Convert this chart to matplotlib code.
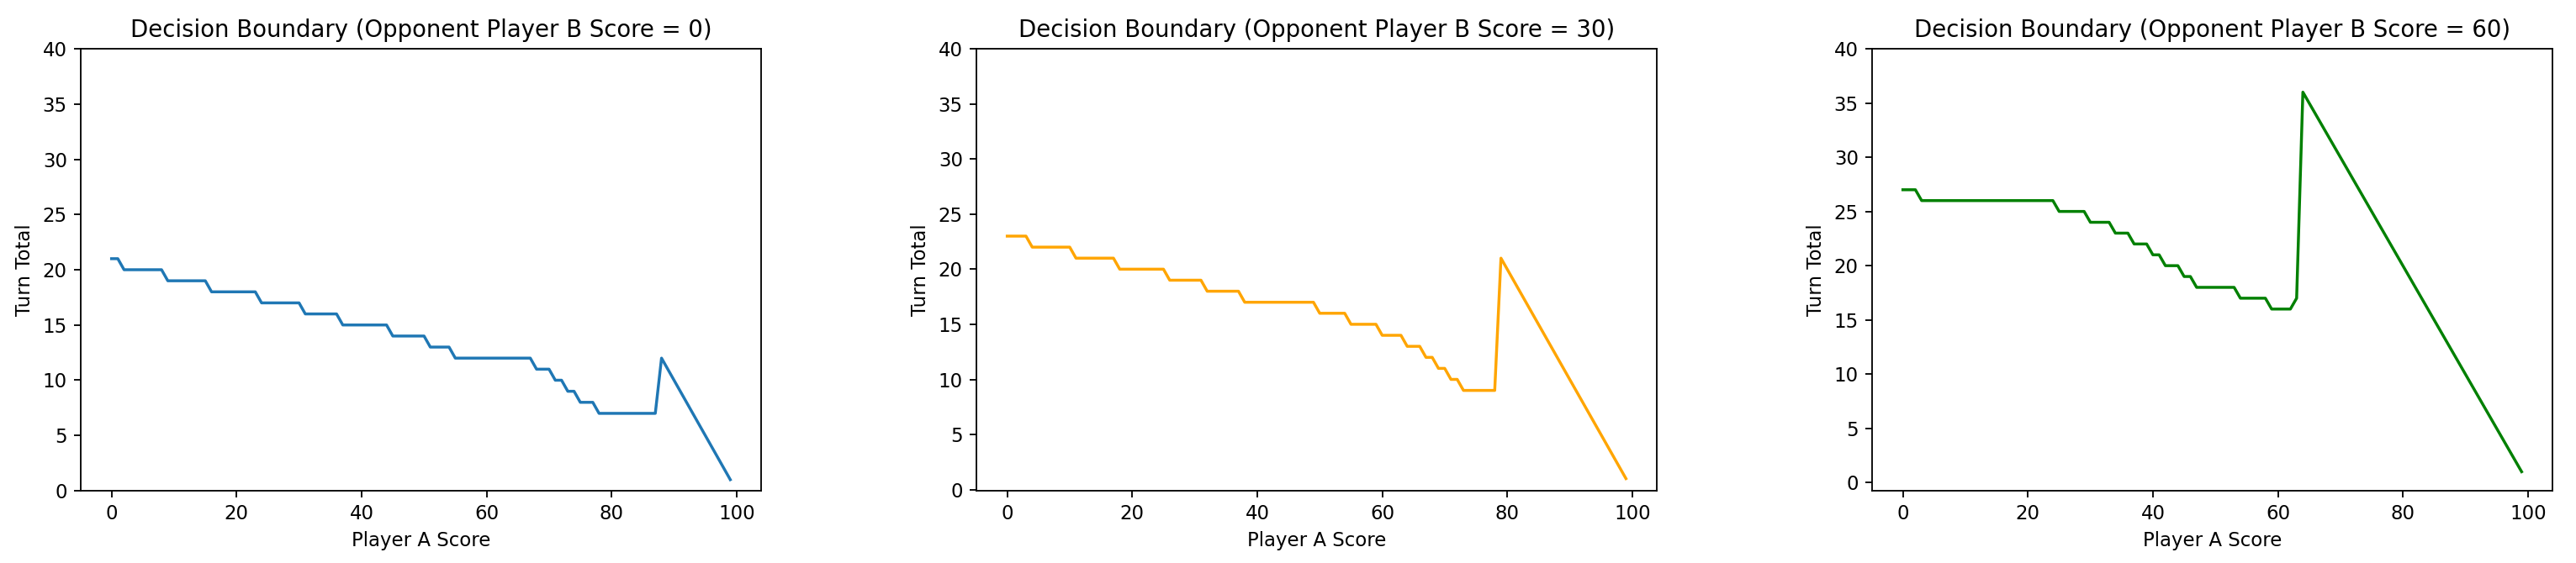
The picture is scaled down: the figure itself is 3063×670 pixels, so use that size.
import matplotlib
matplotlib.use("Agg")
import matplotlib.pyplot as plt

# Player A score (x axis), 0..99
player_a_score = list(range(100))

opponent_scores = [0, 30, 60]
line_colors = ['#1f77b4', 'orange', 'green']

# turn total at which player A should hold
boundary_b0 = [
    21, 21, 20, 20, 20, 20, 20, 20, 20, 19,
    19, 19, 19, 19, 19, 19, 18, 18, 18, 18,
    18, 18, 18, 18, 17, 17, 17, 17, 17, 17,
    17, 16, 16, 16, 16, 16, 16, 15, 15, 15,
    15, 15, 15, 15, 15, 14, 14, 14, 14, 14,
    14, 13, 13, 13, 13, 12, 12, 12, 12, 12,
    12, 12, 12, 12, 12, 12, 12, 12, 11, 11,
    11, 10, 10, 9, 9, 8, 8, 8, 7, 7,
    7, 7, 7, 7, 7, 7, 7, 7, 12, 11,
    10, 9, 8, 7, 6, 5, 4, 3, 2, 1,
]

boundary_b30 = [
    23, 23, 23, 23, 22, 22, 22, 22, 22, 22,
    22, 21, 21, 21, 21, 21, 21, 21, 20, 20,
    20, 20, 20, 20, 20, 20, 19, 19, 19, 19,
    19, 19, 18, 18, 18, 18, 18, 18, 17, 17,
    17, 17, 17, 17, 17, 17, 17, 17, 17, 17,
    16, 16, 16, 16, 16, 15, 15, 15, 15, 15,
    14, 14, 14, 14, 13, 13, 13, 12, 12, 11,
    11, 10, 10, 9, 9, 9, 9, 9, 9, 21,
    20, 19, 18, 17, 16, 15, 14, 13, 12, 11,
    10, 9, 8, 7, 6, 5, 4, 3, 2, 1,
]

boundary_b60 = [
    27, 27, 27, 26, 26, 26, 26, 26, 26, 26,
    26, 26, 26, 26, 26, 26, 26, 26, 26, 26,
    26, 26, 26, 26, 26, 25, 25, 25, 25, 25,
    24, 24, 24, 24, 23, 23, 23, 22, 22, 22,
    21, 21, 20, 20, 20, 19, 19, 18, 18, 18,
    18, 18, 18, 18, 17, 17, 17, 17, 17, 16,
    16, 16, 16, 17, 36, 35, 34, 33, 32, 31,
    30, 29, 28, 27, 26, 25, 24, 23, 22, 21,
    20, 19, 18, 17, 16, 15, 14, 13, 12, 11,
    10, 9, 8, 7, 6, 5, 4, 3, 2, 1,
]

boundaries = [boundary_b0, boundary_b30, boundary_b60]

fig, axes = plt.subplots(1, 3, figsize=(3063 / 165, 670 / 165), dpi=165)
fig.subplots_adjust(left=0.0313, right=0.9909, bottom=0.1284, top=0.9134, wspace=0.316)

for ax, b_score, turn_total, col in zip(axes, opponent_scores, boundaries, line_colors):
    ax.plot(player_a_score, turn_total, color=col, linewidth=1.5)
    ax.set_ylim(top=40)
    ax.set_title(f"Decision Boundary (Opponent Player B Score = {b_score})")
    ax.set_xlabel("Player A Score")
    ax.set_ylabel("Turn Total")

fig.savefig("out.png", dpi=165)
